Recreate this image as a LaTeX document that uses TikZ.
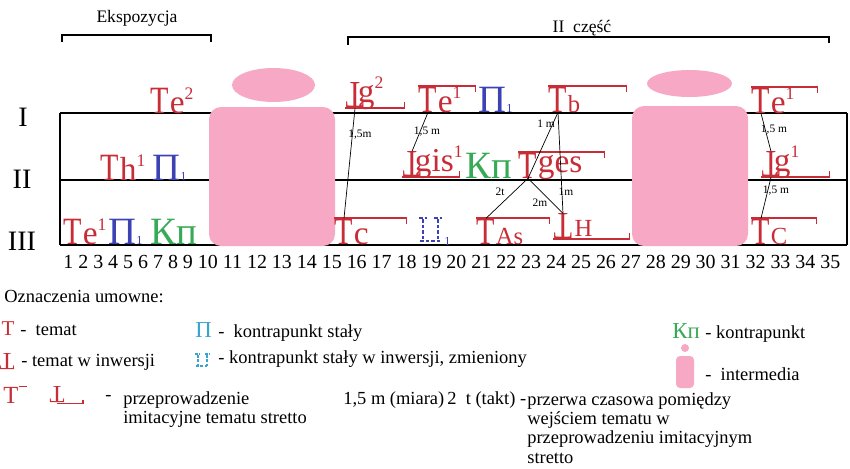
\documentclass[tikz,border=0pt]{standalone}
\usepackage{fontspec}
\setmainfont{Liberation Serif}
\usepackage{graphicx}
\usetikzlibrary{positioning}

\definecolor{temred}{RGB}{200,45,55}
\definecolor{cpblue}{RGB}{60,65,180}
\definecolor{kpgreen}{RGB}{55,170,85}
\definecolor{legcyan}{RGB}{55,165,205}
\definecolor{interpink}{RGB}{247,168,196}

\newcommand{\tT}{\scalebox{0.78}[1]{T}}
\newcommand{\tL}{\rotatebox[origin=c]{180}{\scalebox{0.78}[1]{T}}}
\newcommand{\sups}[1]{\raisebox{7.5pt}{\fontsize{10}{10}\selectfont #1}}
\newcommand{\subs}[1]{{\fontsize{7}{7}\selectfont #1}}

\begin{document}
\begin{tikzpicture}[
  x=0.02cm, y=-0.02cm,
  thm/.style={inner sep=0pt, text=temred, font=\fontsize{22}{22}\selectfont, anchor=base},
  sfx/.style={inner sep=0pt, text=temred, font=\fontsize{19}{19}\selectfont},
  sfxs/.style={sfx, font=\fontsize{14}{14}\selectfont},
  cpi/.style={inner sep=0pt, text=cpblue, font=\fontsize{22}{22}\selectfont, anchor=base west},
  kpi/.style={inner sep=0pt, text=kpgreen, font=\fontsize{22}{22}\selectfont, anchor=base west},
  stret/.style={draw=temred, line width=1pt},
  gapline/.style={draw=black, line width=0.4pt},
  gaplbl/.style={font=\fontsize{6.5}{7}\selectfont, inner sep=0pt},
  staff/.style={draw=black, line width=1.1pt},
  brk/.style={draw=black, line width=1.1pt},
  dotpi/.style={draw=cpblue, line width=1.4pt, dash pattern=on 2pt off 1.2pt},
  head/.style={font=\fontsize{10}{12}\selectfont, inner sep=0pt, anchor=base},
  voice/.style={font=\fontsize{16}{16}\selectfont, inner sep=0pt, anchor=base},
  leg/.style={font=\fontsize{10.5}{11}\selectfont, inner sep=0pt, anchor=base west, align=left}
]
\useasboundingbox (0,0) rectangle (850,468);

% sections
\node[head] (eksp) at (137,22) {Ekspozycja};
\draw[brk] (62,42) -- (62,35) -- (211,35) -- (211,42);
\node[head] (czesc) at (582,32) {II\ \ część};
\draw[brk] (348,45) -- (348,37) -- (829,37) -- (829,43);

% staff
\draw[staff] (60,113) -- (847,113);
\draw[staff] (60,180) -- (847,180);
\draw[staff] (60,245) -- (847,245);
\draw[staff] (60,113) -- (60,245);
\draw[staff] (847,113) -- (847,245);

\node[voice] (v1) at (23,126) {I};
\node[voice] (v2) at (22,188) {II};
\node[voice] (v3) at (22,250) {III};

\node[font=\fontsize{11.35}{13}\selectfont, inner sep=0pt, anchor=base west] (bars)
  at (63,268) {1 2 3 4 5 6 7 8 9 10 11 12 13 14 15 16 17 18 19 20 21 22 23 24 25 26 27 28 29 30 31 32 33 34 35};

% intermedia
\fill[interpink, rounded corners=0.24cm] (209,107) rectangle (335,246);
\fill[interpink] (273.5,85) ellipse [x radius=0.83cm, y radius=0.34cm];
\fill[interpink, rounded corners=0.24cm] (632,106) rectangle (748,246);
\fill[interpink] (689.5,83.5) ellipse [x radius=0.85cm, y radius=0.27cm];

% voice I
\node[thm] (te2) at (160,113) {\tT};
\node[sfx, right=0pt of te2.base east, anchor=base west] (te2s) {e\sups{2}};

\node[thm] (lg2) at (355,108) {\tL};
\node[sfx, right=-4pt of lg2.base east, anchor=base west, yshift=3.4pt] (lg2s) {g\sups{2}};
\draw[stret] (lg2.south west) -- ++(59,0) -- ++(0,-6);

\node[thm] (te1a) at (428,112) {\tT};
\node[sfx, right=0pt of te1a.base east, anchor=base west] (te1as) {e\sups{1}};
\draw[stret] (te1a.north west) -- ++(57,0) -- ++(0,6);

\node[cpi] (pia) at (478,112) {П\subs{1}};

\node[thm] (tb) at (558,112) {\tT};
\node[sfxs, right=0pt of tb.base east, anchor=base west] (tbs) {b};
\draw[stret] (tb.north west) -- ++(78,0) -- ++(0,6);

\node[thm] (te1b) at (761,113) {\tT};
\node[sfx, right=0pt of te1b.base east, anchor=base west] (te1bs) {e\sups{1}};
\draw[stret] (te1b.north west) -- ++(66,0) -- ++(0,6);

% voice II
\node[thm] (th1) at (110,180) {\tT};
\node[sfx, right=0pt of th1.base east, anchor=base west] (th1s) {h\sups{1}};
\node[cpi] (pib) at (152,180) {П\subs{1}};

\node[thm] (lgis) at (412,177) {\tL};
\node[sfx, right=-4pt of lgis.base east, anchor=base west, yshift=3.4pt] (lgiss) {gis\sups{1}};
\draw[stret] (lgis.south west) -- ++(57,0) -- ++(0,-6);

\node[kpi] (kpa) at (465,178) {Кп};

\node[thm] (tges) at (528,178) {\tT};
\node[sfx, right=0pt of tges.base east, anchor=base west, yshift=3pt] (tgess) {ges};
\draw[stret] (tges.north west) -- ++(86,0) -- ++(0,6);

\node[thm] (lg1) at (771,177) {\tL};
\node[sfx, right=-4pt of lg1.base east, anchor=base west, yshift=3.4pt] (lg1s) {g\sups{1}};
\draw[stret] (lg1.south west) -- ++(68,0) -- ++(0,-6);

% voice III
\node[thm] (te1c) at (73,244) {\tT};
\node[sfx, right=0pt of te1c.base east, anchor=base west] (te1cs) {e\sups{1}};
\node[cpi] (pic) at (108,244) {П\subs{1}};
\node[kpi] (kpb) at (150,244) {Кп};

\node[thm] (tc) at (344,244) {\tT};
\node[sfx, right=0pt of tc.base east, anchor=base west] (tcs) {c};
\draw[stret] (tc.north west) -- ++(72,0) -- ++(0,6);

\draw[dotpi] (423,219) -- (423,241) (438,219) -- (438,241)
  (419,218) -- (427,218) (434,218) -- (442,218) (420,241) -- (442,241);
\node[inner sep=0pt, text=cpblue, anchor=base west] (dpsub) at (444,245) {\subs{1}};

\node[thm] (tas) at (486,244) {\tT};
\node[sfxs, right=0pt of tas.base east, anchor=base west] (tass) {As};
\draw[stret] (tas.north west) -- ++(73,0) -- ++(0,6);

\node[thm] (lh) at (563,239) {\tL};
\node[sfxs, right=1pt of lh.base east, anchor=base west, yshift=1.5pt] (lhs) {H};
\draw[stret] (lh.south west) -- ++(76,0) -- ++(0,-6);

\node[thm] (tcc) at (761,244) {\tT};
\node[sfxs, right=0pt of tcc.base east, anchor=base west] (tccs) {C};
\draw[stret] (tcc.north west) -- ++(65,0) -- ++(0,6);

% distances between entries
\draw[gapline] (lg2.south) -- (tc.north);
\draw[gapline] (te1a.south) -- (lgis.north);
\draw[gapline] (tb.south) -- (tges.south);
\draw[gapline] (tb.south) -- (lh.north);
\draw[gapline] (tges.south) -- (tas.north);
\draw[gapline] (tges.south) -- (lh.north);
\draw[gapline] (te1b.south) -- (lg1.north);
\draw[gapline] (lg1.south) -- (tcc.north);

\node[gaplbl] (d1) at (360,135) {1,5m};
\node[gaplbl] (d2) at (427,132) {1,5 m};
\node[gaplbl] (d3) at (546,124) {1 m};
\node[gaplbl] (d4) at (566,192) {1m};
\node[gaplbl] (d5) at (500,192) {2t};
\node[gaplbl] (d6) at (540,203) {2m};
\node[gaplbl] (d7) at (774,130) {1,5 m};
\node[gaplbl] (d8) at (776,191) {1,5 m};

% legend
\node[leg] (legtitle) at (4,302) {Oznaczenia umowne:};

\node[thm, font=\fontsize{12}{12}\selectfont] (legT) at (8,335) {T};
\node[leg] (legTt) at (20,335) {-\ \ temat};
\node[thm, font=\fontsize{14}{14}\selectfont] (legL) at (7,370) {\rotatebox[origin=c]{180}{T}};
\node[leg] (legLt) at (21,366) {-\ temat w inwersji};

\node[cpi, text=legcyan, font=\fontsize{13}{13}\selectfont] (legPi) at (195,337) {П};
\node[leg] (legPit) at (218,337) {-\ \ kontrapunkt stały};
\draw[dotpi, draw=legcyan, line width=1pt, dash pattern=on 1.5pt off 1pt]
  (198,355) -- (198,366) (207,355) -- (207,366)
  (195,354) -- (200,354) (205,354) -- (210,354) (196,366) -- (209,366);
\node[leg] (legDt) at (218,363) {- kontrapunkt stały w inwersji, zmieniony};

\node[kpi, font=\fontsize{13}{13}\selectfont] (legKp) at (672,338) {Кп};
\node[leg] (legKpt) at (705,338) {-\ kontrapunkt};
\fill[interpink] (685,348) circle [radius=0.08cm];
\fill[interpink, rounded corners=0.08cm] (676,356) rectangle (694,388);
\node[leg] (legIt) at (705,380) {-\ \ intermedia};

\node[thm, font=\fontsize{14}{14}\selectfont] (legS1) at (11,403) {T};
\draw[stret, line width=0.6pt] (legS1.north east) -- ++(8,0);
\node[thm, font=\fontsize{14}{14}\selectfont] (legS2) at (57,403) {\rotatebox[origin=c]{180}{T}};
\draw[stret, line width=0.6pt] (legS2.south) -- ++(26,0) -- ++(0,-3);
\node[leg] (legSd) at (105,400) {-};
\node[leg, anchor=north west] (legSt) at (123,391) {przeprowadzenie\\imitacyjne tematu stretto};

\node[leg] (legM) at (343,404) {1,5 m (miara)\,2\ \ t (takt) -};
\node[leg, anchor=north west] (legMt) at (527,392)
  {przerwa czasowa pomiędzy\\wejściem tematu w\\przeprowadzeniu imitacyjnym\\stretto};

\end{tikzpicture}
\end{document}
